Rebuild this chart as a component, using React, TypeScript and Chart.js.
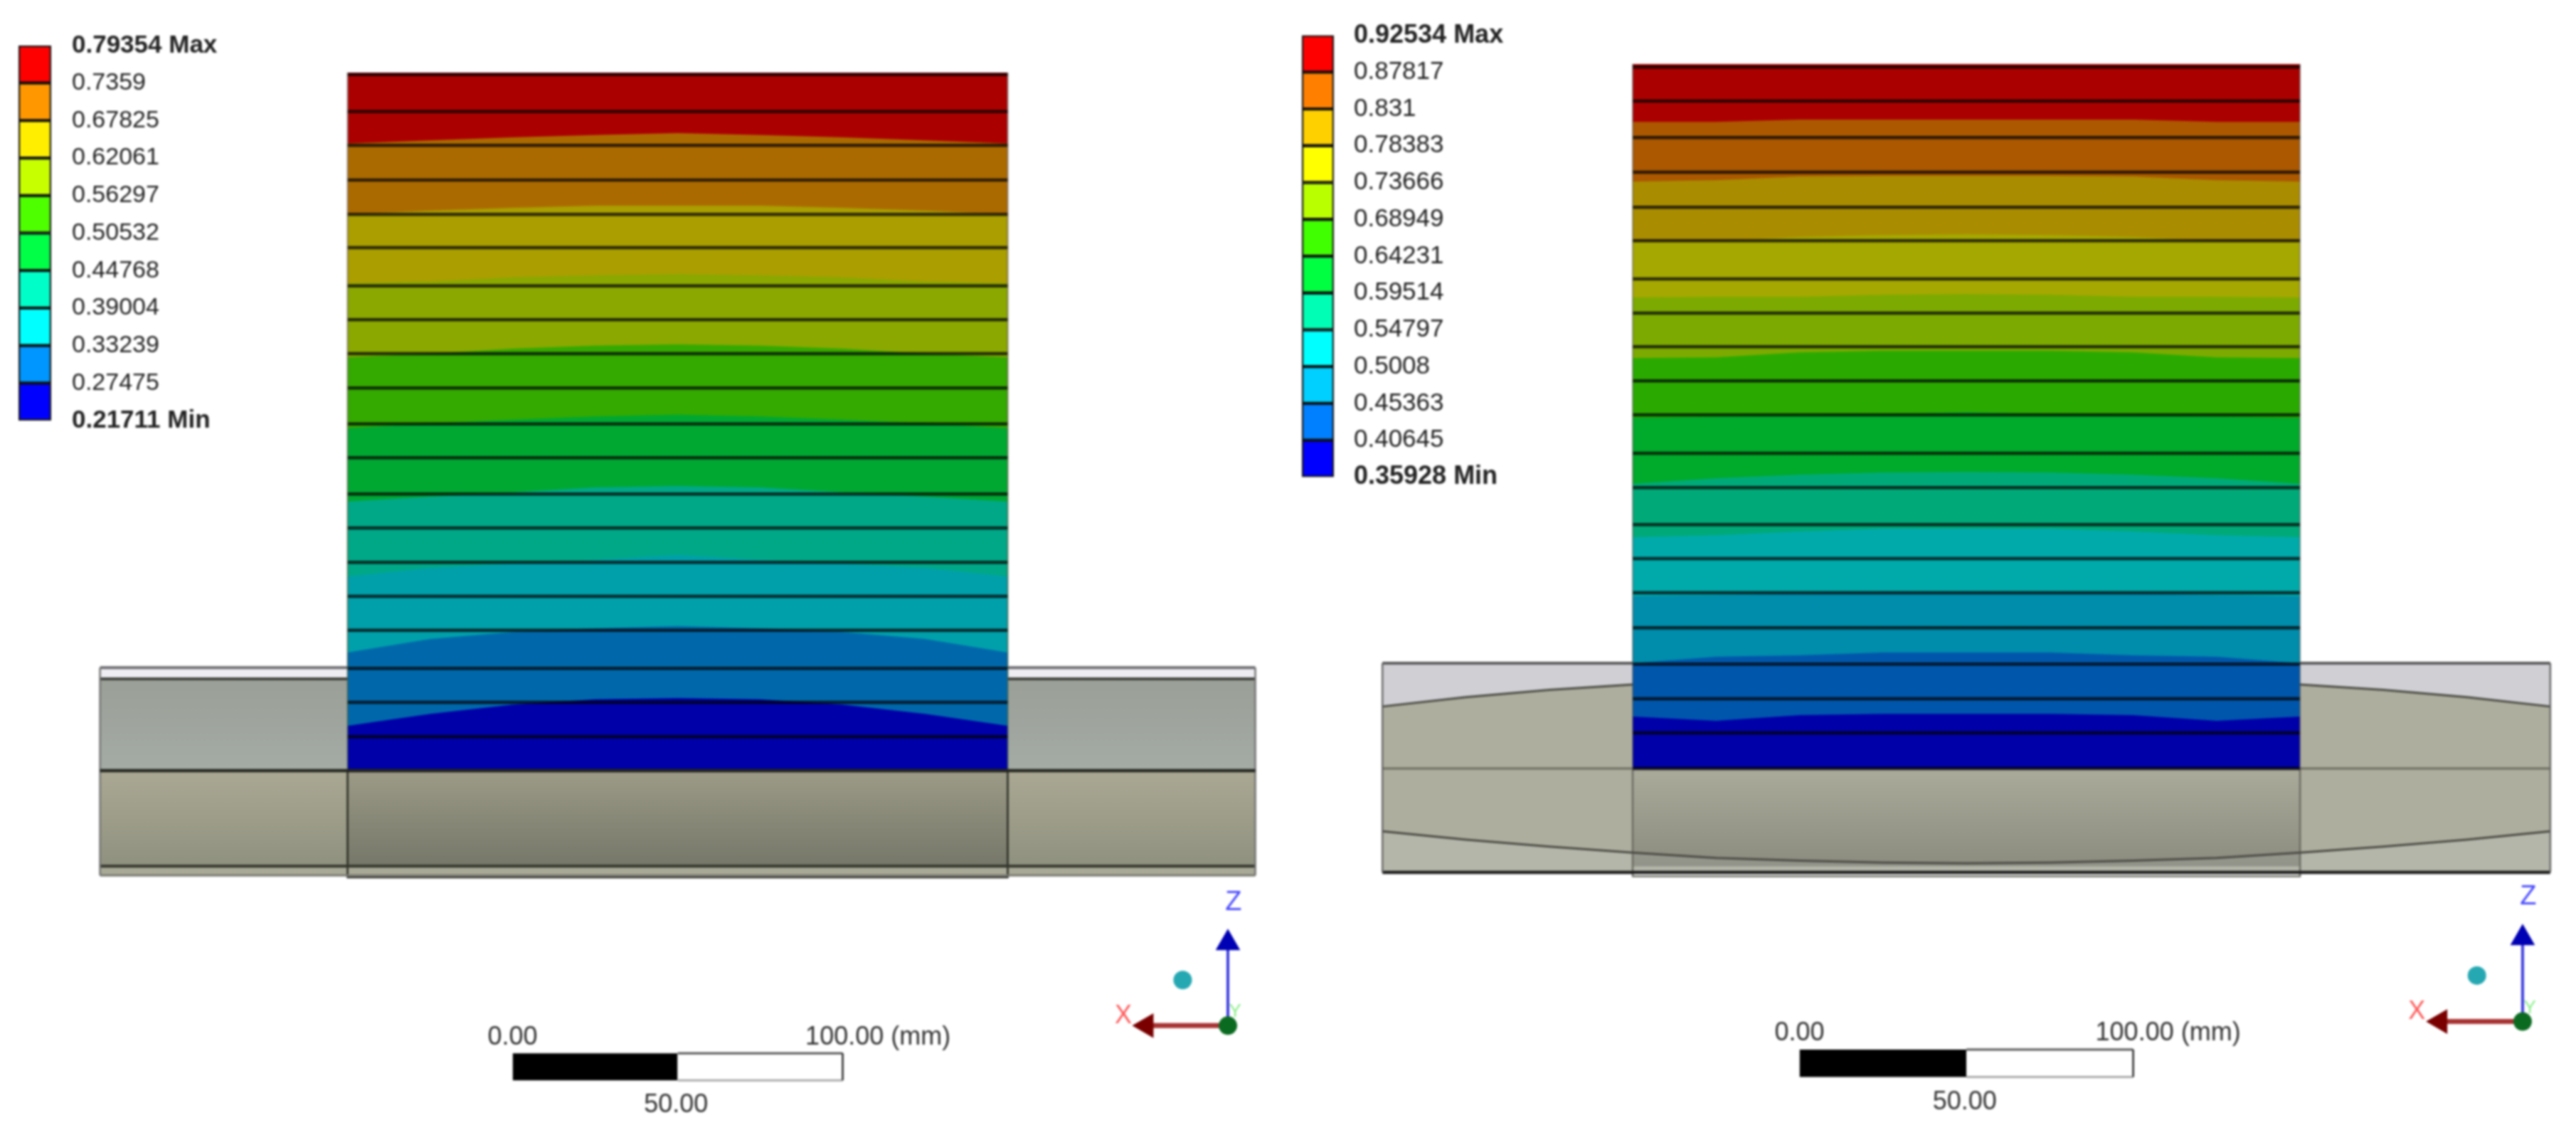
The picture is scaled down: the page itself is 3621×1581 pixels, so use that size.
import React, { useEffect, useRef } from "react";
import Chart from "chart.js/auto";

// contour levels, lowest first
const leftLevels = [0.21711, 0.27475, 0.33239, 0.39004, 0.44768, 0.50532, 0.56297, 0.62061, 0.67825, 0.7359, 0.79354];
const rightLevels = [0.35928, 0.40645, 0.45363, 0.5008, 0.54797, 0.59514, 0.64231, 0.68949, 0.73666, 0.78383, 0.831, 0.87817, 0.92534];

const leftLegendColors = ["#0000ff", "#0096ff", "#00ffff", "#00ffc8", "#00ff46", "#4eff00", "#c8ff00", "#ffee00", "#ff9800", "#ff0000"];
const rightLegendColors = ["#0000ff", "#0080ff", "#00d0ff", "#00ffff", "#00ffb4", "#00ff40", "#40ff00", "#baff00", "#ffff00", "#ffd000", "#ff8000", "#ff0000"];

// shaded band colours on the model, top band first
const leftBandColors = ["#ab0000", "#ab6a00", "#aa9e00", "#8aa800", "#34a900", "#00a832", "#00a888", "#00a0aa", "#0068aa", "#0000a8"];
const rightBandColors = ["#ab0000", "#ab5800", "#aa8c00", "#a5a800", "#7daa00", "#2aaa00", "#00aa2a", "#00aa78", "#00aaaa", "#008cab", "#0056ab", "#0000a8"];

// all model geometry in mm, x from column centre, y from column foot
const stations = [-100, -75, -50, -25, 0, 25, 50, 75, 100];

const leftTop = 211.4;
const leftEdges = [
    [189.9, 190.9, 191.8, 192.5, 193.1, 192.5, 191.8, 190.9, 189.9],
    [168.5, 169.6, 170.5, 171.1, 171.1, 171.1, 170.5, 169.6, 168.5],
    [147.6, 148.1, 149.4, 150.0, 150.4, 150.0, 149.4, 148.1, 147.6],
    [125.2, 126.3, 127.8, 128.7, 129.1, 128.7, 127.8, 126.3, 125.2],
    [103.7, 105.2, 106.3, 107.3, 107.8, 107.3, 106.3, 105.2, 103.7],
    [81.5, 83.0, 84.3, 85.8, 86.2, 85.8, 84.3, 83.0, 81.5],
    [58.8, 61.4, 62.7, 63.8, 65.3, 63.8, 62.7, 61.4, 58.8],
    [35.8, 39.9, 42.0, 43.1, 43.8, 43.1, 42.0, 39.9, 35.8],
    [13.6, 17.2, 20.0, 21.6, 22.0, 21.6, 20.0, 17.2, 13.6],
];
const leftLayers = [210.8, 199.6, 189.4, 178.9, 168.5, 158.4, 146.8, 136.6, 126.3, 115.9, 105.0, 94.8, 83.8, 73.5, 63.1, 52.8, 42.5, 31.0, 20.7, 10.3, 0];

const rightTop = 211.1;
const rightEdges = [
    [193.8, 193.8, 194.5, 194.5, 194.5, 194.5, 194.5, 193.8, 193.8],
    [175.9, 176.3, 177.4, 177.6, 177.6, 177.6, 177.4, 176.3, 175.9],
    [157.8, 158.0, 159.3, 159.9, 160.1, 159.9, 159.3, 158.0, 157.8],
    [141.2, 141.4, 141.4, 142.0, 142.2, 142.0, 141.4, 141.4, 141.2],
    [123.0, 123.2, 124.7, 125.2, 125.2, 125.2, 124.7, 123.2, 123.0],
    [105.1, 105.5, 106.0, 106.2, 106.8, 106.2, 106.0, 105.5, 105.1],
    [85.3, 87.0, 88.1, 88.7, 88.9, 88.7, 88.1, 87.0, 85.3],
    [69.3, 69.9, 71.0, 71.9, 71.9, 71.9, 71.0, 69.9, 69.3],
    [51.6, 52.0, 52.5, 52.7, 52.7, 52.7, 52.5, 52.0, 51.6],
    [31.6, 33.5, 33.9, 34.8, 34.8, 34.8, 33.9, 33.5, 31.6],
    [15.6, 14.3, 16.0, 16.4, 16.4, 16.4, 16.0, 14.3, 15.6],
];
const rightLayers = [210.2, 200.0, 189.1, 178.7, 168.2, 158.2, 146.7, 136.5, 126.4, 116.2, 106.0, 94.5, 84.2, 73.1, 62.9, 52.7, 42.2, 31.3, 20.9, 10.7, 0];

// deformed lens outline of the right hand plate
const lensStations = [-175, -150, -125, -100, -75, -50, -25, 0, 25, 50, 75, 100, 125, 150, 175];
const lensUpper = [18.6, 21.4, 23.6, 25.2, 26.0, 26.5, 26.8, 27.0, 26.8, 26.5, 26.0, 25.2, 23.6, 21.4, 18.6];
const lensLower = [-18.8, -21.3, -23.4, -25.2, -26.8, -27.6, -28.2, -28.4, -28.2, -27.6, -26.8, -25.2, -23.4, -21.3, -18.8];

const scaleBarTicks = ["0.00", "50.00", "100.00 (mm)"];
const FONT = "'Liberation Sans', Arial, sans-serif";
const SOFTEN = "blur(1.6px)";

type Label = { x: number; y: number; text: string; color: string; size: number; align: CanvasTextAlign };

const band = (sets: any[], xs: number[], upper: number[], lower: number[], fillColor: any) => {
    const flat = { type: "line", pointRadius: 0, borderWidth: 0 };
    sets.push({ ...flat, data: xs.map((x, i) => ({ x, y: lower[i] })), fill: false, order: -sets.length });
    sets.push({ ...flat, data: xs.map((x, i) => ({ x, y: upper[i] })), fill: { target: sets.length - 1 }, backgroundColor: fillColor, order: -sets.length });
};

const box = (sets: any[], x0: number, x1: number, y1: number, y0: number, fillColor: any) =>
    band(sets, [x0, x1], [y1, y1], [y0, y0], fillColor);

const stroke = (sets: any[], pts: number[][], color: string, width: number) =>
    sets.push({ type: "line", pointRadius: 0, fill: false, borderColor: color, borderWidth: width, data: pts.map(([x, y]) => ({ x, y })), order: -sets.length });

const marker = (sets: any[], x: number, y: number, style: string, radius: number, color: string, rotation = 0) =>
    sets.push({ type: "line", showLine: false, fill: false, data: [{ x, y }], pointStyle: style, pointRadius: radius, pointRotation: rotation, pointBackgroundColor: color, pointBorderWidth: 0, order: -sets.length });

const vGradient = (top: number, bottom: number, c0: string, c1: string) => (ctx: any) => {
    const chart = ctx.chart;
    if (!chart.chartArea) return c0;
    const y = chart.scales.y;
    const g = chart.ctx.createLinearGradient(0, y.getPixelForValue(top), 0, y.getPixelForValue(bottom));
    g.addColorStop(0, c0);
    g.addColorStop(1, c1);
    return g;
};

const addColumn = (sets: any[], top: number, edges: number[][], colors: string[], layers: number[]) => {
    const foot = stations.map(() => 0);
    band(sets, stations, stations.map(() => top), foot, colors[0]);
    edges.forEach((edge, i) => band(sets, stations, edge, foot, colors[i + 1]));
    layers.forEach((y) => stroke(sets, [[-100, y], [100, y]], "rgba(0,0,0,0.74)", 4.5));
    stroke(sets, [[-100, 0], [-100, top]], "rgba(70,70,70,0.5)", 2);
    stroke(sets, [[100, 0], [100, top]], "rgba(70,70,70,0.5)", 2);
};

const addFoot = (sets: any[], low: number, bottomColor: string, upperAlpha: number, lowerAlpha: number) => {
    box(sets, -100, 100, 0, low + 3, vGradient(0, low + 3, `rgba(0,0,0,${upperAlpha})`, `rgba(0,0,0,${lowerAlpha})`));
    stroke(sets, [[-100, 0], [-100, low], [100, low], [100, 0]], bottomColor, 2.5);
};

// scale bar and axis triad, shift moves them up a little on the right hand view
const addDecor = (sets: any[], labels: Label[], shift: number) => {
    box(sets, -50, 0, -85.6 + shift, -93.8 + shift, "#000000");
    box(sets, 0, 50, -85.6 + shift, -93.8 + shift, "#ffffff");
    stroke(sets, [[0, -85.6 + shift], [50, -85.6 + shift]], "#555555", 3);
    stroke(sets, [[0, -93.8 + shift], [50, -93.8 + shift]], "#aaaaaa", 3);
    stroke(sets, [[50, -85.6 + shift], [50, -93.8 + shift]], "#222222", 2.5);
    labels.push({ x: -50, y: -80.8 + shift, text: scaleBarTicks[0], color: "#333", size: 36, align: "center" });
    labels.push({ x: -0.5, y: -101.3 + shift, text: scaleBarTicks[1], color: "#333", size: 36, align: "center" });
    labels.push({ x: 38.7, y: -80.8 + shift, text: scaleBarTicks[2], color: "#333", size: 36, align: "left" });

    const oy = -77.2 + shift;
    stroke(sets, [[166.7, oy], [166.7, -52.2 + shift]], "#3a3ae0", 4);
    marker(sets, 166.7, -52.2 + shift, "triangle", 20, "#0000b4");
    stroke(sets, [[166.7, oy], [142, oy]], "#a83232", 7);
    marker(sets, 142, oy, "triangle", 20, "#7a0000", -90);
    marker(sets, 166.7, oy, "circle", 13, "#0a6a20");
    marker(sets, 153, -63.4 + shift, "circle", 13, "#25a8b2");
    labels.push({ x: 168.4, y: -39.9 + shift, text: "Z", color: "#4a4aff", size: 38, align: "center" });
    labels.push({ x: 135, y: -74.4 + shift, text: "X", color: "#ff5a5a", size: 36, align: "center" });
    labels.push({ x: 168.9, y: -73.1 + shift, text: "Y", color: "#88ee88", size: 26, align: "center" });
};

const buildLeftModel = () => {
    const sets: any[] = [];
    const labels: Label[] = [];
    box(sets, -175, 175, 31.2, 27.8, "#eeeef2");
    box(sets, -175, 175, 27.8, 0, vGradient(27.8, 0, "#9a9f97", "#a4aba5"));
    box(sets, -175, 175, 0, -28.9, vGradient(0, -28.9, "#aaa893", "#8f917f"));
    box(sets, -175, 175, -28.9, -31.7, "#a9a997");
    addFoot(sets, -32.3, "#26281f", 0.08, 0.18);
    stroke(sets, [[-175, 31.2], [175, 31.2]], "#6b6b70", 4);
    stroke(sets, [[-175, 27.8], [175, 27.8]], "#40423c", 4);
    stroke(sets, [[-175, -28.9], [175, -28.9]], "#33352c", 4);
    stroke(sets, [[-175, -31.7], [175, -31.7]], "#777770", 3);
    stroke(sets, [[-175, 31.2], [-175, -31.7]], "#707070", 2.5);
    stroke(sets, [[175, 31.2], [175, -31.7]], "#707070", 2.5);
    addColumn(sets, leftTop, leftEdges, leftBandColors, leftLayers);
    stroke(sets, [[-175, 0], [175, 0]], "#23261f", 4.5);
    addDecor(sets, labels, 0);
    return { sets, labels };
};

const buildRightModel = () => {
    const sets: any[] = [];
    const labels: Label[] = [];
    box(sets, -175, 175, 31.6, -31.1, "#cfcfd4");
    box(sets, -175, 175, 0, -31.1, "#b5b6aa");
    band(sets, lensStations, lensUpper, lensLower, "#aeae9e");
    addFoot(sets, -32.3, "#6a6a62", 0.02, 0.2);
    stroke(sets, lensStations.map((x, i) => [x, lensUpper[i]]), "#4a4a44", 3);
    stroke(sets, lensStations.map((x, i) => [x, lensLower[i]]), "#4a4a44", 3);
    stroke(sets, [[-175, 31.6], [175, 31.6]], "#5a5a5a", 4);
    stroke(sets, [[-175, 0], [175, 0]], "#6c6c60", 3);
    stroke(sets, [[-175, -31.1], [175, -31.1]], "#1c1c1c", 4.5);
    stroke(sets, [[-175, 31.6], [-175, -31.1]], "#666666", 2.5);
    stroke(sets, [[175, 31.6], [175, -31.1]], "#666666", 2.5);
    addColumn(sets, rightTop, rightEdges, rightBandColors, rightLayers);
    addDecor(sets, labels, 1.4);
    return { sets, labels };
};

interface ModelProps {
    left: number;
    width: number;
    xRange: [number, number];
    yRange: [number, number];
    build: () => { sets: any[]; labels: Label[] };
}

const ModelChart: React.FC<ModelProps> = ({ left, width, xRange, yRange, build }) => {
    const ref = useRef<HTMLCanvasElement | null>(null);

    useEffect(() => {
        if (!ref.current) return;
        const { sets, labels } = build();
        const chart = new Chart(ref.current, {
            type: "line",
            data: { datasets: sets },
            options: {
                animation: false,
                responsive: false,
                events: [],
                // no auto padding, the big triad markers would shrink the whole plot otherwise
                layout: { padding: 0, autoPadding: false },
                plugins: { legend: { display: false }, tooltip: { enabled: false } },
                scales: {
                    x: { type: "linear", display: false, bounds: "data", min: xRange[0], max: xRange[1] },
                    y: { type: "linear", display: false, bounds: "data", min: yRange[0], max: yRange[1] },
                },
            },
            plugins: [
                {
                    id: "modelText",
                    afterDatasetsDraw(c: any) {
                        const ctx = c.ctx;
                        ctx.save();
                        ctx.textBaseline = "middle";
                        labels.forEach((l) => {
                            ctx.font = `${l.size}px ${FONT}`;
                            ctx.fillStyle = l.color;
                            ctx.textAlign = l.align;
                            ctx.fillText(l.text, c.scales.x.getPixelForValue(l.x), c.scales.y.getPixelForValue(l.y));
                        });
                        ctx.restore();
                    },
                },
            ],
        } as any);
        return () => chart.destroy();
    }, []);

    return <canvas ref={ref} width={width} height={1581} style={{ position: "absolute", left, top: 0, filter: SOFTEN }} />;
};

interface LegendProps {
    left: number;
    levels: number[];
    colors: string[];
    padLeft: number;
    barWidth: number;
    padTop: number;
    padBottom: number;
    tickGap: number;
    fontSize: number;
}

const LegendChart: React.FC<LegendProps> = ({ left, levels, colors, padLeft, barWidth, padTop, padBottom, tickGap, fontSize }) => {
    const ref = useRef<HTMLCanvasElement | null>(null);

    useEffect(() => {
        if (!ref.current) return;
        const last = levels.length - 1;
        const chart = new Chart(ref.current, {
            type: "bar",
            data: {
                labels: [""],
                datasets: colors.map((c, i) => ({
                    data: [[levels[i], levels[i + 1]]],
                    backgroundColor: c,
                    borderColor: "#111111",
                    borderWidth: 2.5,
                    borderSkipped: false,
                    barPercentage: 1,
                    categoryPercentage: 1,
                    grouped: false,
                })),
            },
            options: {
                animation: false,
                responsive: false,
                events: [],
                layout: { padding: { left: padLeft, top: padTop, bottom: padBottom, right: 0 }, autoPadding: false },
                plugins: { legend: { display: false }, tooltip: { enabled: false } },
                scales: {
                    x: { display: false },
                    y: {
                        position: "right",
                        min: levels[0],
                        max: levels[last],
                        grid: { display: false, drawTicks: false },
                        border: { display: false },
                        afterBuildTicks: (axis: any) => {
                            axis.ticks = levels.map((value) => ({ value }));
                        },
                        afterFit: (axis: any) => {
                            axis.width = 420 - padLeft - barWidth;
                        },
                        ticks: {
                            autoSkip: false,
                            padding: tickGap,
                            color: "#222222",
                            font: (ctx: any) => {
                                const bold = ctx.index === 0 || ctx.index === last;
                                return { family: FONT, size: bold ? fontSize + 1 : fontSize, weight: bold ? "bold" : "normal" };
                            },
                            callback: (value: any, index: number) =>
                                String(value) + (index === last ? " Max" : index === 0 ? " Min" : ""),
                        },
                    },
                },
            },
        } as any);
        return () => chart.destroy();
    }, []);

    return <canvas ref={ref} width={420} height={720} style={{ position: "absolute", left, top: 0, filter: SOFTEN }} />;
};

export default function App() {
    return (
        <>
            <ModelChart left={0} width={1810} xRange={[-205.3, 184.8]} yRange={[-107.3, 233.4]} build={buildLeftModel} />
            <ModelChart left={1810} width={1811} xRange={[-203.4, 182.7]} yRange={[-106.8, 230.3]} build={buildRightModel} />
            <LegendChart left={0} levels={leftLevels} colors={leftLegendColors} padLeft={26} barWidth={46} padTop={64} padBottom={129} tickGap={29} fontSize={34} />
            <LegendChart left={1810} levels={rightLevels} colors={rightLegendColors} padLeft={20} barWidth={45} padTop={45} padBottom={45} tickGap={28} fontSize={35} />
        </>
    );
}
